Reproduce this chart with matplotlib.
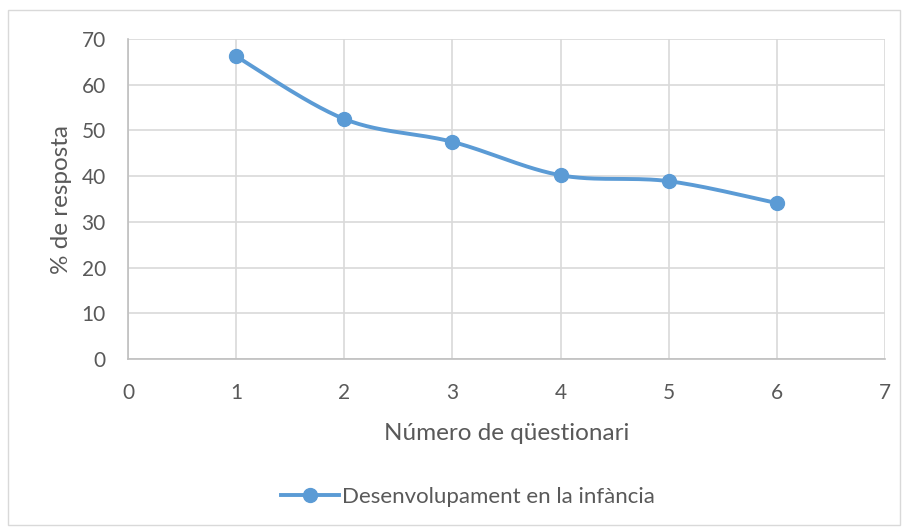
import numpy as np
import matplotlib.pyplot as plt
from matplotlib.patches import Rectangle
from matplotlib.lines import Line2D

plt.rcParams['font.family'] = ['Lato', 'DejaVu Sans']

questionari = [1, 2, 3, 4, 5, 6]
resposta = [66.2, 52.5, 47.5, 40.2, 38.9, 34.1]
serie = 'Desenvolupament en la infància'

grey = '#595959'
grid_c = '#d9d9d9'
axis_c = '#bfbfbf'
blue = '#5b9bd5'


def smooth(xs, ys, n=30):
    # Catmull-Rom style curve like Excel's smoothed line
    xs = np.asarray(xs, float)
    ys = np.asarray(ys, float)
    px = np.concatenate([[xs[0]], xs, [xs[-1]]])
    py = np.concatenate([[ys[0]], ys, [ys[-1]]])
    outx, outy = [], []
    t = np.linspace(0, 1, n)
    for i in range(1, len(px) - 2):
        p0 = np.array([px[i], py[i]])
        p3 = np.array([px[i + 1], py[i + 1]])
        p1 = p0 + (np.array([px[i + 1], py[i + 1]]) - np.array([px[i - 1], py[i - 1]])) / 6
        p2 = p3 - (np.array([px[i + 2], py[i + 2]]) - np.array([px[i], py[i]])) / 6
        b = ((1 - t) ** 3)[:, None] * p0 + (3 * (1 - t) ** 2 * t)[:, None] * p1 \
            + (3 * (1 - t) * t ** 2)[:, None] * p2 + (t ** 3)[:, None] * p3
        outx.extend(b[:, 0])
        outy.extend(b[:, 1])
    return outx, outy


fig = plt.figure(figsize=(9.09, 5.32), dpi=100)
fig.patches.append(Rectangle((8 / 909, 1 - 525 / 532), 892 / 909, 515 / 532,
                             transform=fig.transFigure, fill=False,
                             edgecolor=grid_c, linewidth=1))

ax = fig.add_axes([128 / 909, 1 - 359 / 532, 757 / 909, 320 / 532])
sx, sy = smooth(questionari, resposta)
ax.plot(sx, sy, color=blue, linewidth=2.8, solid_capstyle='round', zorder=3)
ax.plot(questionari, resposta, 'o', color=blue, markersize=10, zorder=4)

ax.set_xlim(0, 7)
ax.set_ylim(0, 70)
ax.set_xticks(range(0, 8))
ax.set_yticks(range(0, 80, 10))
ax.grid(True, color=grid_c, linewidth=1.2)
ax.set_axisbelow(True)
for s in ['top', 'right']:
    ax.spines[s].set_visible(False)
for s in ['left', 'bottom']:
    ax.spines[s].set_color(axis_c)
    ax.spines[s].set_linewidth(1.2)
ax.tick_params(length=0, labelsize=15, colors=grey)
ax.tick_params(axis='x', pad=17)
ax.tick_params(axis='y', pad=16)
ax.set_xlabel('Número de qüestionari', fontsize=17.5, color=grey, va='center')
ax.set_ylabel('% de resposta', fontsize=17.5, color=grey, va='center')
ax.xaxis.set_label_coords(0.5, -74 / 320)
ax.yaxis.set_label_coords(-66 / 757, 0.5)

h = Line2D([], [], color=blue, linewidth=2.8, marker='o', markersize=10)
fig.legend([h], [serie], loc='center', bbox_to_anchor=(0.515, 1 - 497 / 532),
           frameon=False, fontsize=16, labelcolor=grey, handlelength=2.6,
           handletextpad=0.15)

fig.savefig('out.png', dpi=100)
